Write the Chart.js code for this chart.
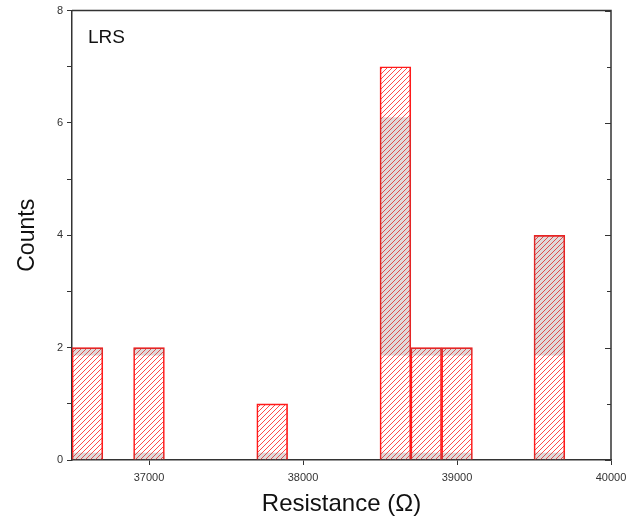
<!DOCTYPE html>
<html>
<head>
<meta charset="utf-8">
<script src="https://cdn.jsdelivr.net/npm/chart.js@4.4.0/dist/chart.umd.min.js"></script>
<style>
html, body { margin: 0; padding: 0; background: #fff; }
</style>
</head>
<body>
<canvas id="histChart" width="639" height="519"></canvas>
<script>
// histogram bins (center of each 200 ohm bin) and counts
const binCenters = [36600, 37000, 37800, 38600, 38800, 39000, 39600];
const counts = [2, 2, 1, 7, 2, 2, 4];
const xTicks = [37000, 38000, 39000, 40000];
const yTicks = [0, 1, 2, 3, 4, 5, 6, 7, 8];

const FONT = "'Liberation Sans', Arial, sans-serif";
const AXIS = "#333";

function makeHatch(ctx) {
    const c = document.createElement("canvas");
    c.width = 5;
    c.height = 5;
    const g = c.getContext("2d");
    g.strokeStyle = "rgba(255, 30, 30, 0.8)";
    g.lineWidth = 1;
    g.beginPath();
    g.moveTo(0, 5); g.lineTo(5, 0);
    g.moveTo(-1, 1); g.lineTo(1, -1);
    g.moveTo(4, 6); g.lineTo(6, 4);
    g.stroke();
    return ctx.createPattern(c, "repeat");
}

// frame, inward right ticks, "LRS" label and the greyish band seen in the scan
const framePlugin = {
    id: "frame",
    afterDatasetsDraw(chart) {
        const { ctx, scales } = chart;
        const y = scales.y;
        const bands = [[1.86, 6.1], [0, 0.13]];
        ctx.save();
        chart.getDatasetMeta(0).data.forEach(bar => {
            const half = bar.width / 2;
            bands.forEach(([lo, hi]) => {
                const top = Math.max(bar.y, y.getPixelForValue(hi));
                const bot = y.getPixelForValue(lo);
                if (bot > top) {
                    ctx.fillStyle = "rgba(110, 85, 85, 0.22)";
                    ctx.fillRect(bar.x - half, top, half * 2, bot - top);
                }
            });
        });
        ctx.restore();
    },
    afterDraw(chart) {
        const { ctx, chartArea: a, scales } = chart;
        ctx.save();
        ctx.strokeStyle = AXIS;
        ctx.lineWidth = 1.5;
        ctx.beginPath();
        ctx.moveTo(a.left, a.top);
        ctx.lineTo(a.right, a.top);
        ctx.lineTo(a.right, a.bottom);
        ctx.stroke();
        ctx.lineWidth = 1;
        yTicks.forEach(v => {
            const py = Math.round(scales.y.getPixelForValue(v)) + 0.5;
            const len = v % 2 === 0 ? 6 : 4;
            ctx.beginPath();
            ctx.moveTo(a.right, py);
            ctx.lineTo(a.right - len, py);
            ctx.stroke();
        });
        ctx.fillStyle = "#111";
        ctx.font = "19px " + FONT;
        ctx.textBaseline = "alphabetic";
        ctx.fillText("LRS", a.left + 16, a.top + 32);
        ctx.restore();
    }
};

const ctx = document.getElementById("histChart").getContext("2d");

new Chart(ctx, {
    type: "bar",
    data: {
        datasets: [{
            label: "LRS",
            data: binCenters.map((x, i) => ({ x: x, y: counts[i] })),
            backgroundColor: makeHatch(ctx),
            borderColor: "#ff1a1a",
            borderWidth: 1,
            barPercentage: 1,
            categoryPercentage: 1
        }]
    },
    options: {
        responsive: false,
        animation: false,
        layout: { padding: { top: 9, right: 28, left: 0, bottom: 0 } },
        plugins: {
            legend: { display: false },
            tooltip: { enabled: false }
        },
        scales: {
            x: {
                type: "linear",
                min: 36500,
                max: 40000,
                offset: false,
                afterBuildTicks: s => { s.ticks = xTicks.map(v => ({ value: v })); },
                afterFit: s => { s.height = 59; },
                grid: { offset: false, drawOnChartArea: false, drawTicks: true, tickLength: 5, color: AXIS },
                border: { color: AXIS, width: 1.5 },
                ticks: {
                    color: AXIS,
                    padding: 6,
                    maxRotation: 0,
                    font: { family: FONT, size: 11 },
                    callback: v => String(v)
                },
                title: {
                    display: true,
                    text: "Resistance (Ω)",
                    color: "#111",
                    font: { family: FONT, size: 24 },
                    padding: { top: 0, bottom: 0 }
                }
            },
            y: {
                min: 0,
                max: 8,
                afterBuildTicks: s => { s.ticks = yTicks.map(v => ({ value: v })); },
                afterFit: s => { s.width = 72; },
                grid: { drawOnChartArea: false, drawTicks: true, tickLength: 5, color: AXIS },
                border: { color: AXIS, width: 1.5 },
                ticks: {
                    color: AXIS,
                    padding: 4,
                    font: { family: FONT, size: 11 },
                    callback: v => (v % 2 === 0 ? String(v) : "")
                },
                title: {
                    display: true,
                    text: "Counts",
                    color: "#111",
                    font: { family: FONT, size: 23 },
                    padding: { top: 14, bottom: 0 }
                }
            }
        }
    },
    plugins: [framePlugin]
});
</script>
</body>
</html>
